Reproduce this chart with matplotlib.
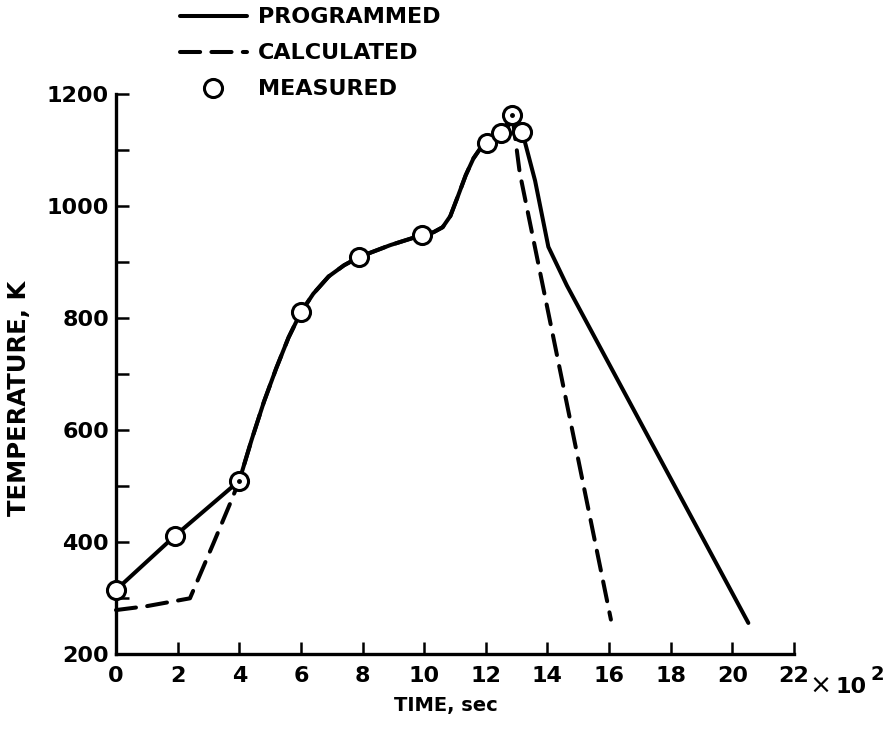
import matplotlib
matplotlib.use('Agg')
import matplotlib.pyplot as plt

# time in units of 100 s, temperature in K
prog_t = [0, 1.9, 4.0, 4.4, 4.8, 5.2, 5.6, 6.0, 6.4, 6.9, 7.4, 7.9, 8.9, 9.93,
          10.3, 10.6, 10.85, 11.1, 11.35, 11.6, 11.85, 12.05, 12.5, 12.85, 13.18,
          13.6, 14.03, 14.63, 20.52]
prog_T = [314, 410, 509, 582, 650, 710, 765, 810, 843, 874, 894, 909, 930, 948,
          953, 962, 982, 1018, 1055, 1085, 1105, 1113, 1131, 1150, 1133,
          1045, 927, 858, 255]

calc_t = [0, 1.0, 2.4, 3.16, 3.7, 4.0, 4.4, 4.8, 5.2, 5.6, 6.0, 6.4, 6.9, 7.4, 7.9,
          8.9, 9.93, 10.3, 10.6, 10.85, 11.1, 11.35, 11.6, 11.85, 12.05, 12.5,
          12.86, 13.1, 16.06]
calc_T = [278, 285, 299, 397, 468, 509, 582, 650, 710, 765, 810, 843, 874, 894, 909,
          930, 948, 953, 962, 982, 1018, 1055, 1085, 1105, 1113, 1131,
          1162, 1060, 261]

meas_t = [0, 1.9, 4.0, 6.0, 7.9, 9.93, 12.05, 12.5, 13.18, 12.86]
meas_T = [314, 410, 509, 810, 909, 948, 1113, 1131, 1133, 1162]
dotted = [2, 9]  # circles drawn with a centre dot

xticks = list(range(0, 23, 2))
yticks = list(range(200, 1201, 200))
yminor = list(range(300, 1200, 200))

fig = plt.figure(figsize=(8.95, 7.31), dpi=100)
ax = fig.add_axes([0.1296, 0.1057, 0.7575, 0.7657])

lw = 2.9
ax.plot(prog_t, prog_T, color='black', lw=lw, solid_capstyle='round',
        solid_joinstyle='round', label='PROGRAMMED', clip_on=False)
ax.plot(calc_t, calc_T, color='black', lw=lw, ls=(0, (5, 2.8)),
        dash_capstyle='round', label='CALCULATED', clip_on=False)
ax.plot(meas_t, meas_T, ls='none', marker='o', ms=13, mfc='white', mec='black',
        mew=2.2, label='MEASURED', clip_on=False, zorder=5)
ax.plot([meas_t[i] for i in dotted], [meas_T[i] for i in dotted], ls='none',
        marker='o', ms=2.5, color='black', zorder=6, clip_on=False)

ax.set_xlim(0, 22)
ax.set_ylim(200, 1200)
for s in ['top', 'right']:
    ax.spines[s].set_visible(False)
for s in ['left', 'bottom']:
    ax.spines[s].set_linewidth(2.4)

ax.set_xticks(xticks)
ax.set_xticklabels([str(v) for v in xticks])
ax.set_yticks(yticks)
ax.set_yticks(yminor, minor=True)
ax.tick_params(axis='both', which='both', direction='in', length=9, width=1.8)
ax.tick_params(axis='x', pad=9)
ax.tick_params(axis='y', pad=5)
for lab in ax.get_xticklabels() + ax.get_yticklabels():
    lab.set_fontsize(16)
    lab.set_fontweight('bold')

ax.annotate('\u00d7', xy=(22, 200), xycoords='data', xytext=(19, -24),
            textcoords='offset points', fontsize=19, ha='center', va='center')
ax.annotate('10', xy=(22, 200), xycoords='data', xytext=(30, -24),
            textcoords='offset points', fontsize=16, fontweight='bold',
            ha='left', va='center')
ax.annotate('2', xy=(22, 200), xycoords='data', xytext=(55, -15),
            textcoords='offset points', fontsize=14, fontweight='bold',
            ha='left', va='center')

ax.set_xlabel('TIME, sec', fontsize=14, fontweight='bold')
ax.xaxis.set_label_coords(0.487, -0.075)
ax.set_ylabel('TEMPERATURE, K', fontsize=17.5, fontweight='bold')
ax.yaxis.set_label_coords(-0.125, 0.457)

fig.legend(loc='upper left', bbox_to_anchor=(0.201, 0.99), frameon=False,
           prop={'weight': 'bold', 'size': 16}, handlelength=3.0,
           handletextpad=0.5, labelspacing=0.72, borderpad=0, borderaxespad=0)

fig.savefig('out.png', dpi=100)
